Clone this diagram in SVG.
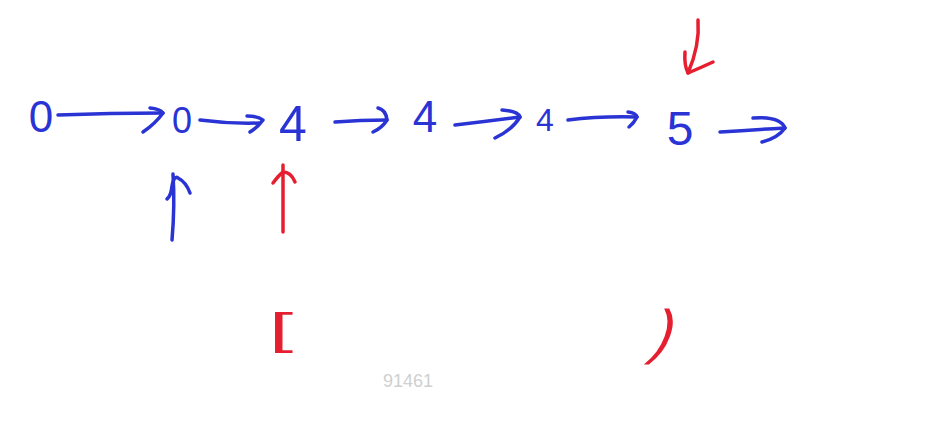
<svg xmlns="http://www.w3.org/2000/svg" width="937" height="437" viewBox="0 0 937 437">
<style>
.b{fill:none;stroke:#2a33d4;stroke-width:3.5;stroke-linecap:round;stroke-linejoin:round}
.r{fill:none;stroke:#e61f30;stroke-width:3.5;stroke-linecap:round;stroke-linejoin:round}
.tb{font-family:"Liberation Sans",Arial,sans-serif;fill:#2a33d4;text-anchor:middle}
.tr{font-family:"Liberation Sans",Arial,sans-serif;fill:#e61f30;text-anchor:middle}
.wm{font-family:"Liberation Sans",Arial,sans-serif;fill:#cfcfcf;font-size:18px;text-anchor:middle}
</style>
<rect width="937" height="437" fill="#ffffff"/>
<g id="n0a"><text class="tb" x="41" y="132" font-size="44">0</text></g>
<g id="n0b"><text class="tb" x="182" y="133" font-size="36">0</text></g>
<g id="n4a"><text class="tb" x="293" y="141" font-size="50">4</text></g>
<g id="n4b"><text class="tb" x="425" y="132" font-size="44">4</text></g>
<g id="n4c"><text class="tb" x="545" y="131" font-size="32">4</text></g>
<g id="n5"><text class="tb" x="680" y="145" font-size="48">5</text></g>
<g id="lbr"><text class="tr" transform="translate(281,344) scale(2,1)" x="0" y="0" font-size="44">[</text></g>
<g id="rpar"><text class="tr" transform="translate(658,352) skewX(-20)" x="0" y="0" font-size="60">)</text></g>
<g id="wm"><text class="wm" x="408" y="387">91461</text></g>
<g id="connectors">
<path class="b" d="M58 115 Q110 113 163 113"/>
<path class="b" d="M150 108 Q160 109 163 113 Q155 124 143 132"/>
<path class="b" d="M200 120 Q230 124 260 123"/>
<path class="b" d="M247 116 Q258 116 263 120 Q258 127 250 132"/>
<path class="b" d="M335 122 Q360 120 387 120"/>
<path class="b" d="M378 108 Q386 110 387 120 Q382 128 373 132"/>
<path class="b" d="M455 125 Q490 121 520 117"/>
<path class="b" d="M502 110 Q518 111 520 117 Q512 130 495 138"/>
<path class="b" d="M568 120 Q600 116 637 117"/>
<path class="b" d="M628 112 Q636 113 637 117 Q634 123 629 127"/>
<path class="b" d="M720 132 Q750 130 785 128"/>
<path class="b" d="M753 118 Q780 116 785 128 Q778 138 762 142"/>
<path class="r" d="M698 20 Q700 45 688 73"/>
<path class="r" d="M685 52 Q684 65 688 73 Q700 68 713 62"/>
<path class="b" d="M172 240 Q175 205 173 174"/>
<path class="b" d="M167 199 Q171 196 172 186 Q174 175 178 178 Q186 182 190 193"/>
<path class="r" d="M283 232 L283 165"/>
<path class="r" d="M273 183 Q279 175 283 172 Q291 172 295 182"/>
</g>
</svg>
